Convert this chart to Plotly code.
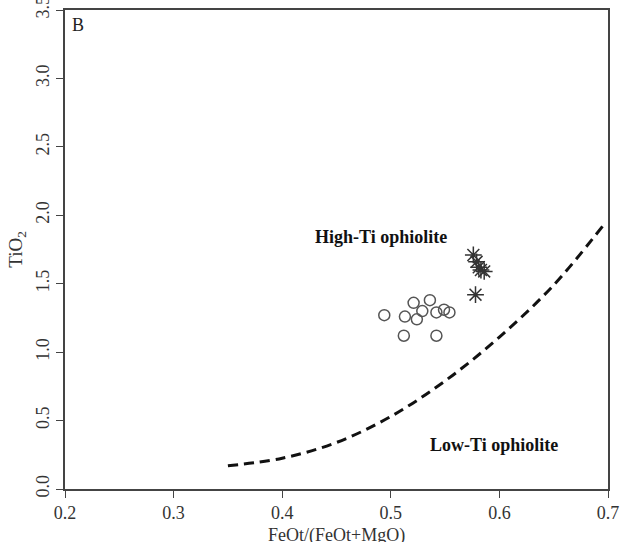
import plotly.graph_objects as go

# Open circles
circle_x = [0.494, 0.513, 0.521, 0.529, 0.536, 0.524, 0.542, 0.549, 0.554, 0.512, 0.542]
circle_y = [1.27, 1.26, 1.36, 1.30, 1.38, 1.24, 1.29, 1.31, 1.29, 1.12, 1.12]

# Asterisks
star_x = [0.576, 0.579, 0.581, 0.583, 0.586, 0.578]
star_y = [1.71, 1.66, 1.62, 1.60, 1.59, 1.42]

# Dashed boundary curve
curve_x = [0.35, 0.40, 0.45, 0.50, 0.55, 0.60, 0.65, 0.695]
curve_y = [0.17, 0.225, 0.34, 0.53, 0.79, 1.11, 1.49, 1.92]

x_ticks = [0.2, 0.3, 0.4, 0.5, 0.6, 0.7]
y_ticks = [0.0, 0.5, 1.0, 1.5, 2.0, 2.5, 3.0, 3.5]

FONT = "Liberation Serif"

fig = go.Figure()
fig.add_trace(go.Scatter(
    x=curve_x, y=curve_y, mode="lines",
    line=dict(color="#111111", width=3, dash="10px,6px", shape="spline"),
    hoverinfo="skip", showlegend=False))
fig.add_trace(go.Scatter(
    x=circle_x, y=circle_y, mode="markers",
    marker=dict(symbol="circle-open", size=11, color="#555555", line=dict(width=1.5, color="#555555")),
    showlegend=False))
fig.add_trace(go.Scatter(
    x=star_x, y=star_y, mode="markers",
    marker=dict(symbol="asterisk-open", size=14, color="#333333", line=dict(width=1.5, color="#333333")),
    showlegend=False))

fig.add_annotation(x=0.491, y=1.84, text="<b>High-Ti ophiolite</b>", showarrow=False,
                   font=dict(family=FONT, size=18, color="#111111"))
fig.add_annotation(x=0.595, y=0.32, text="<b>Low-Ti ophiolite</b>", showarrow=False,
                   font=dict(family=FONT, size=18, color="#111111"))
fig.add_annotation(x=0.2, y=3.39, text="B", showarrow=False, xanchor="left", xshift=5,
                   font=dict(family=FONT, size=18, color="#222222"))
# x-axis title (placed low so it is cut at the bottom edge like the reference)
fig.add_annotation(xref="paper", yref="paper", x=0.5, y=-0.098, yanchor="middle",
                   text="FeOt/(FeOt+MgO)", showarrow=False,
                   font=dict(family=FONT, size=18, color="#333333"))

axis_common = dict(
    showgrid=False, zeroline=False, showline=True, mirror=True, automargin=False,
    linecolor="#444444", linewidth=1.5, ticks="outside", ticklen=7,
    tickcolor="#444444", tickwidth=1.2, ticklabeloverflow="allow",
    tickfont=dict(family=FONT, size=18, color="#333333"),
)

fig.update_xaxes(range=[0.2, 0.7], tickvals=x_ticks, ticktext=[f"{v:.1f}" for v in x_ticks],
                 **axis_common)
fig.update_yaxes(range=[0, 3.5], tickvals=y_ticks, ticktext=[f"{v:.1f}" for v in y_ticks],
                 tickangle=-90,
                 title=dict(text="TiO<sub>2</sub>", font=dict(family=FONT, size=19, color="#333333"), standoff=5),
                 **axis_common)

fig.update_layout(
    width=623, height=542,
    margin=dict(l=65, r=15, t=10, b=53),
    paper_bgcolor="white", plot_bgcolor="white",
)

fig.write_html("out.html", config={"displayModeBar": False},
               post_script="document.body.style.margin='0';")
